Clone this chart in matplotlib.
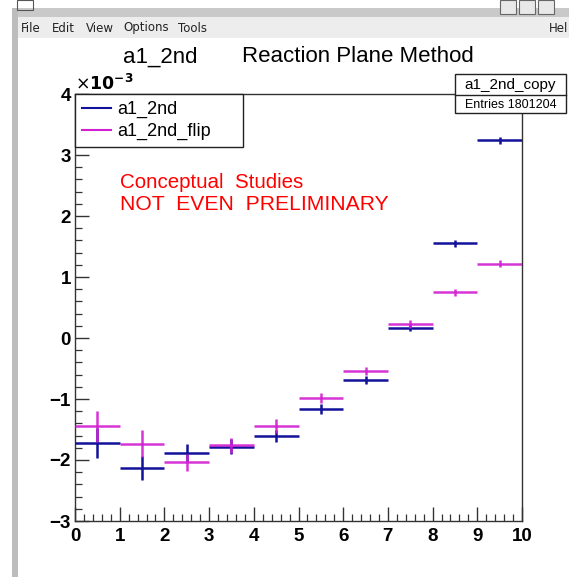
import matplotlib
matplotlib.use("Agg")
import matplotlib.pyplot as plt
from matplotlib.lines import Line2D
from matplotlib.patches import Rectangle
from matplotlib.ticker import MultipleLocator
import numpy as np

# ---- data (values in units of 1e-3) ----
bin_centers = [0.5, 1.5, 2.5, 3.5, 4.5, 5.5, 6.5, 7.5, 8.5, 9.5]
a1_2nd = [-1.72, -2.13, -1.88, -1.78, -1.61, -1.16, -0.69, 0.17, 1.55, 3.24]
a1_2nd_err = [0.25, 0.19, 0.15, 0.12, 0.10, 0.08, 0.07, 0.06, 0.06, 0.06]
a1_2nd_flip = [-1.45, -1.73, -2.04, -1.76, -1.44, -0.98, -0.54, 0.23, 0.75, 1.22]
a1_2nd_flip_err = [0.25, 0.22, 0.14, 0.12, 0.12, 0.08, 0.07, 0.06, 0.06, 0.06]
bin_half_width = 0.5

menu_items = ["File", "Edit", "View", "Options", "Tools"]

BLUE = "#11119a"
MAG = "#d21fd2"

W, H = 569, 577
fig = plt.figure(figsize=(W / 100, H / 100), dpi=100)
fig.patch.set_facecolor("white")

def fx(px):
    return px / W

def fy(py):
    return 1 - py / H

# ---- window chrome ----
fig.patches.append(Rectangle((fx(12), fy(17)), fx(569 - 12), 9 / H, transform=fig.transFigure,
                             facecolor="#c9c9c9", edgecolor="none", zorder=0))
fig.patches.append(Rectangle((fx(12), fy(38)), fx(569 - 12), 21 / H, transform=fig.transFigure,
                             facecolor="#ededed", edgecolor="none", zorder=0))
fig.patches.append(Rectangle((fx(12), 0), fx(6), fy(8), transform=fig.transFigure,
                             facecolor="#bdbdbd", edgecolor="none", zorder=0))
fig.patches.append(Rectangle((fx(17), fy(10)), fx(16), 10 / H, transform=fig.transFigure,
                             facecolor="none", edgecolor="#555555", lw=0.8, zorder=1))
for bx in (500, 519, 538):
    fig.patches.append(Rectangle((fx(bx), fy(14)), fx(16), 14 / H, transform=fig.transFigure,
                                 facecolor="#e8e8e8", edgecolor="#666666", lw=0.8, zorder=1))
menu_x = [21, 52, 86, 123, 178]
for mx, item in zip(menu_x, menu_items):
    fig.text(fx(mx), fy(28), item, fontsize=8.5, family="DejaVu Sans", color="#222222",
             va="center", ha="left")
fig.text(fx(549), fy(28), "Hel", fontsize=8.5, family="DejaVu Sans", color="#222222",
         va="center", ha="left")

# ---- main axes ----
ax = fig.add_axes([fx(75), fy(521), fx(522 - 75), (521 - 94) / H])
ax.set_xlim(0, 10)
ax.set_ylim(-3, 4)

ax.errorbar(bin_centers, a1_2nd, xerr=bin_half_width, yerr=a1_2nd_err, fmt="none",
            ecolor=BLUE, elinewidth=1.8, capsize=0, zorder=3)
ax.errorbar(bin_centers, a1_2nd_flip, xerr=bin_half_width, yerr=a1_2nd_flip_err, fmt="none",
            ecolor=MAG, elinewidth=1.8, capsize=0, zorder=3, alpha=0.9)

for s in ax.spines.values():
    s.set_color("#333333")
    s.set_linewidth(1.0)

ax.xaxis.set_major_locator(MultipleLocator(1))
ax.xaxis.set_minor_locator(MultipleLocator(0.2))
ax.yaxis.set_major_locator(MultipleLocator(1))
ax.yaxis.set_minor_locator(MultipleLocator(0.2))
ax.tick_params(which="both", direction="in", top=False, right=False, color="#333333")
ax.tick_params(which="major", length=10, width=1.0)
ax.tick_params(which="minor", length=5, width=0.9)
ax.tick_params(axis="x", which="major", pad=5)
ax.tick_params(axis="y", which="major", pad=3)
ax.set_xticks(range(0, 11))
ax.set_xticklabels([str(i) for i in range(0, 11)], family="Liberation Sans",
                   fontweight="bold", fontsize=13.5)
ax.set_yticks(range(-3, 5))
ax.set_yticklabels(["\u22123", "\u22122", "\u22121", "0", "1", "2", "3", "4"],
                   family="Liberation Sans", fontweight="bold", fontsize=13.5)

# exponent
fig.text(fx(75), fy(84), r"$\times\mathbf{10^{-3}}$", fontsize=12.5, va="center", ha="left")

# legend
handles = [Line2D([], [], color=BLUE, lw=1.5), Line2D([], [], color=MAG, lw=1.5)]
leg_w = (243 - 75) / (522 - 75)
leg = ax.legend(handles, ["a1_2nd", "a1_2nd_flip"], loc="upper left",
                bbox_to_anchor=(0, 0, leg_w, 1), mode="expand", borderaxespad=0,
                fancybox=False, edgecolor="#222222", framealpha=1, handlelength=1.6,
                handletextpad=0.35, borderpad=0.4, labelspacing=0.25,
                prop={"family": "Liberation Sans", "size": 13})
leg.get_frame().set_linewidth(1.0)
leg.set_zorder(5)

# red annotation
xa = (120 - 75) / (522 - 75)
ax.text(xa, (521 - 182) / (521 - 94), "Conceptual  Studies",
        transform=ax.transAxes, color="red", fontsize=14.8, family="Liberation Sans",
        va="center", ha="left")
ax.text(xa, (521 - 205) / (521 - 94), "NOT  EVEN  PRELIMINARY",
        transform=ax.transAxes, color="red", fontsize=15.2, family="Liberation Sans",
        va="center", ha="left")

# title
fig.text(fx(123), fy(57), "a1_2nd", fontsize=16, family="Liberation Sans",
         va="center", ha="left")
fig.text(fx(242), fy(57), "Reaction Plane Method", fontsize=16, family="Liberation Sans",
         va="center", ha="left")

# stats box
fig.patches.append(Rectangle((fx(455), fy(113)), fx(566 - 455), (113 - 74) / H,
                             transform=fig.transFigure, facecolor="white",
                             edgecolor="#222222", lw=1.0, zorder=6))
fig.lines.append(Line2D([fx(455), fx(566)], [fy(95), fy(95)], transform=fig.transFigure,
                        color="#222222", lw=1.0, zorder=7))
fig.text(fx(510.5), fy(85), "a1_2nd_copy", fontsize=11, family="Liberation Sans",
         va="center", ha="center", zorder=8)
fig.text(fx(510.5), fy(104.5), "Entries 1801204", fontsize=9, family="Liberation Sans",
         va="center", ha="center", zorder=8)

fig.savefig("out.png", dpi=100)
